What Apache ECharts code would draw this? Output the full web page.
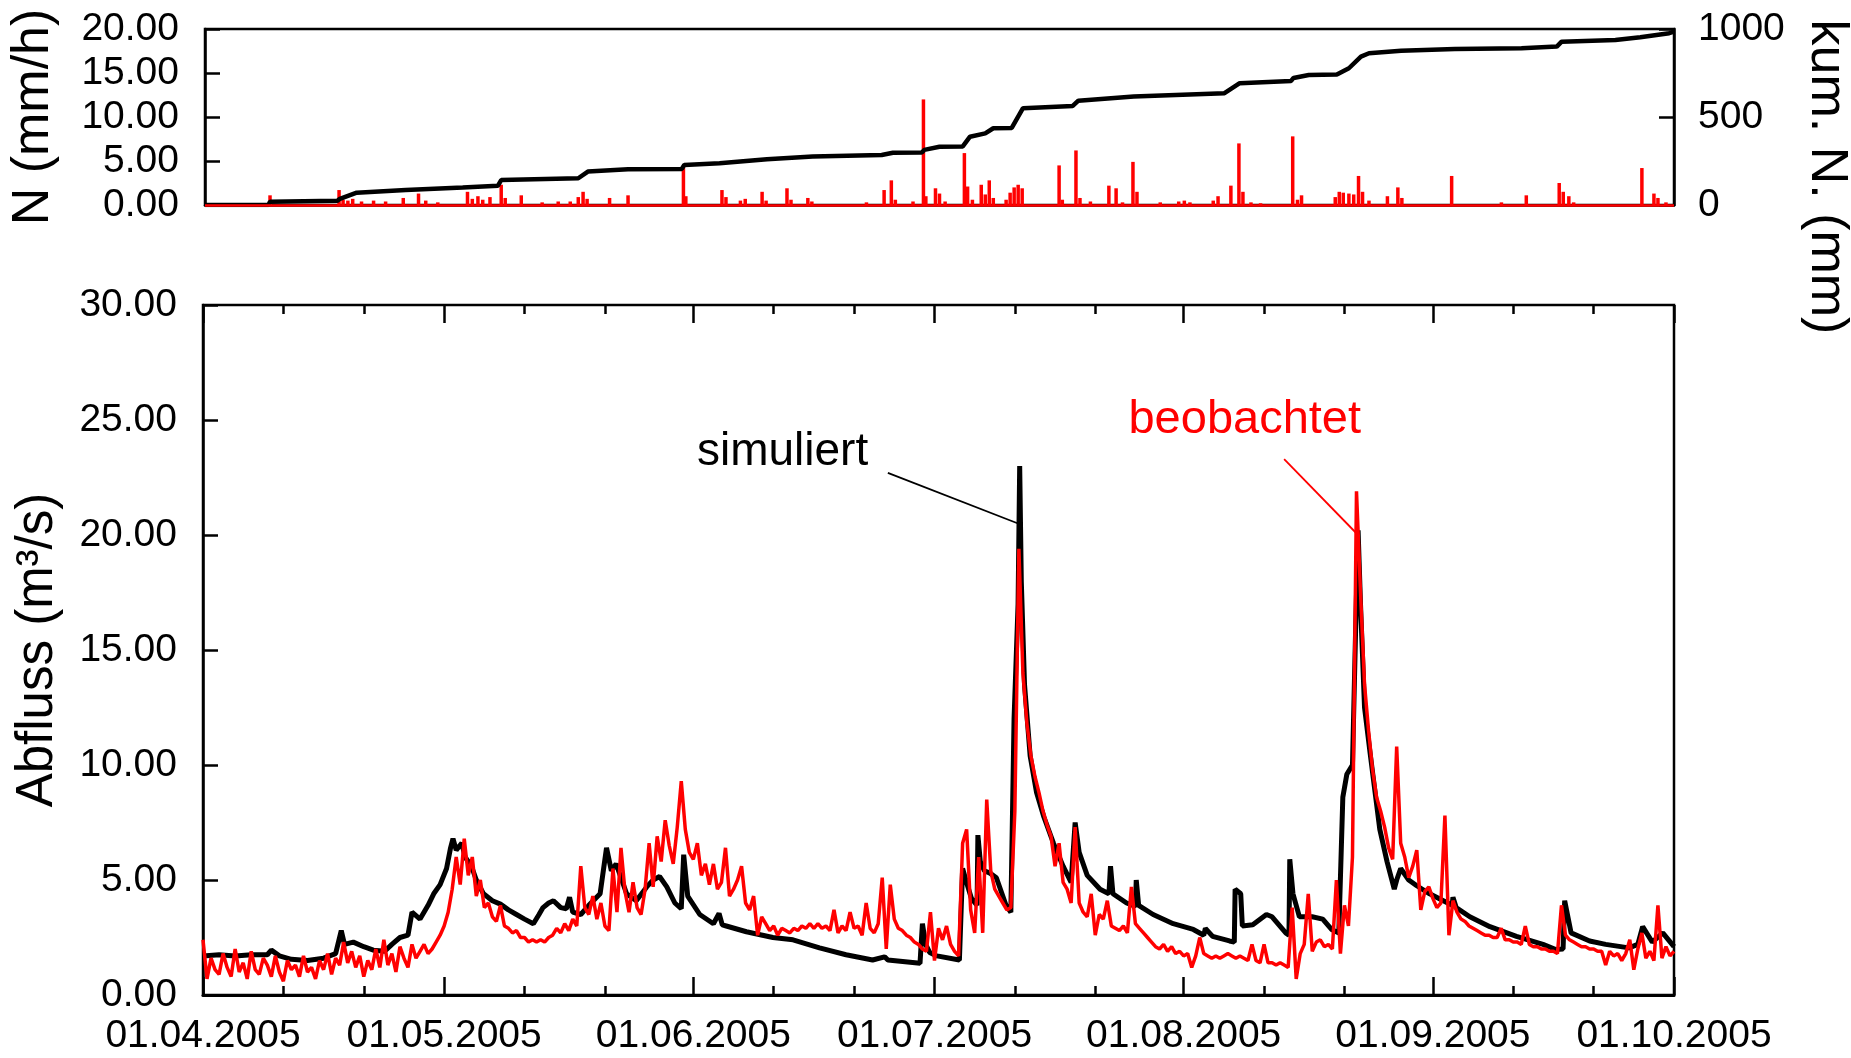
<!DOCTYPE html>
<html><head><meta charset="utf-8">
<script src="https://cdn.jsdelivr.net/npm/echarts@6/dist/echarts.min.js"></script>
<style>html,body{margin:0;padding:0;background:#fff}#c{width:1851px;height:1058px}</style>
</head><body><div id="c"></div>
<script>
// ---- x axis: days since 01.04.2005 ----
const monthLabelDays = [0, 30, 61, 91, 122, 153, 183];
const monthLabels = ['01.04.2005','01.05.2005','01.06.2005','01.07.2005','01.08.2005','01.09.2005','01.10.2005'];
const minorTickDays = [10, 20, 40, 50, 71, 81, 101, 111, 132, 142, 163, 173];

// ---- top panel: precipitation (mm/h) events [day, value] ----
const precipDays = [8.1,16.7,17.2,17.8,18.4,19.5,21,22.5,24.7,26.6,27.5,29,32.7,33.3,34,34.6,35.5,36.9,37.4,39.4,42,44,45.5,46.5,47.1,47.6,50.4,52.7,59.6,59.9,64.4,64.9,66.7,67.3,69.4,69.9,72.5,73,75.1,75.6,82.4,84.6,85.5,86,88.2,89.5,89.8,91,91.5,92.2,94.6,95,95.6,96.7,97.2,97.7,98.2,99.8,100.3,100.8,101.3,101.8,106.4,106.8,108.5,109,110.3,112.6,113.5,114.3,115.6,116.1,119,121.3,122,122.7,125.6,126.2,127.8,128.8,129.3,130.3,131.5,135.5,136.1,136.6,140.8,141.3,141.8,142.5,143.1,143.7,144.2,145,147.3,148.6,149.1,155.3,161.5,164.6,168.7,169.2,169.9,170.5,179,180.5,181,182];
const precipValues = [1.1,1.7,0.6,0.5,0.7,0.4,0.5,0.4,0.8,1.3,0.5,0.3,1.5,0.7,1.0,0.6,0.9,2.3,0.8,1.1,0.3,0.4,0.4,0.9,1.5,0.7,0.8,1.1,4.4,1.0,1.7,0.9,0.5,0.7,1.5,0.5,1.9,0.6,0.8,0.4,0.3,1.7,2.8,0.6,0.4,12.0,1.0,1.9,1.3,0.4,5.9,2.1,0.6,2.3,1.2,2.8,0.8,0.6,1.4,2.0,2.3,1.9,4.5,0.6,6.2,0.8,0.4,2.2,1.9,0.3,4.9,1.5,0.3,0.4,0.5,0.3,0.5,1.0,2.2,7.0,1.5,0.3,0.2,7.8,0.6,1.1,0.9,1.5,1.4,1.3,1.2,3.3,1.5,0.5,1.0,2.0,0.8,3.3,0.3,1.1,2.5,1.5,1.0,0.3,4.2,1.3,0.8,0.3];

// ---- top panel: cumulative precipitation (mm) ----
const cumDays = [0,7.9,8.1,16.5,16.8,18.9,25,32.1,36.5,36.9,46.5,47.7,52.7,59.4,59.7,64.1,70,75.7,84.3,85.7,89.3,89.6,91.5,94.4,95.3,97.2,98.2,100.5,101.9,108.1,108.8,115.7,127,128.9,135.3,135.6,137.5,141,142.5,144,145,149,155.7,164,168.4,169,175.7,178.8,182.4,183];
const cumValues = [0,0,19,24,35,70,85,100,110,142,152,190,203,205,227,237,260,275,284,297,298,313,331,333,388,407,436,438,550,563,593,616,635,692,705,722,739,742,777,843,862,877,887,891,900,928,938,953,976,985];

// ---- bottom panel: simulated discharge (m3/s) ----
const simDays = [0,2,4,6,8,8.5,9.5,11,13,15,16.5,17.2,17.6,18.7,20,21.2,22.6,23.5,24.5,25.5,26,27,28,28.7,29.5,30.3,30.8,31.1,31.5,32.2,32.6,33.4,34,34.9,36,37,38,39,40,41.1,41.8,42.3,43,43.6,44.5,45.2,45.6,46,47,48,49.4,50.2,50.8,51.4,52.7,53.9,55.2,56,56.8,57.7,58.7,59.5,59.8,60.3,61.8,63.5,64.2,64.6,65.1,67.6,70.9,73.4,76.7,80,83.3,84.8,85.2,89.2,89.5,89.9,90.4,91.3,94.1,94.5,94.9,95.6,96.3,96.4,96.7,97.2,97.9,98.7,99.9,100.5,100.9,101.4,101.6,101.8,102.2,102.9,103.7,104.6,105.8,107,108,108.5,109,110,111.6,112.7,112.9,113.2,114.9,116,116.1,116.4,118.2,120.7,123.2,124.5,124.7,125.6,127.7,128.3,128.4,129.1,129.3,130.6,132.3,133,134.7,135.1,135.2,135.6,136.4,138,139.3,140.4,141.3,141.8,142.3,143,143.4,143.7,144,144.5,145.2,146.4,147.3,148.2,148.5,149,150,151,152.6,154,155.4,155.5,155.9,157.6,160.1,163.4,166.7,168.3,169.2,169.4,170.2,172.5,174.5,177.4,178.5,179.1,180.3,181.6,183];
const simValues = [1.7,1.75,1.7,1.75,1.75,1.95,1.7,1.55,1.5,1.6,1.8,2.8,2.2,2.3,2.1,1.95,1.9,2.2,2.5,2.6,3.6,3.3,3.9,4.4,4.8,5.5,6.4,6.8,6.3,6.6,6.0,5.6,5.0,4.4,4.1,3.95,3.7,3.5,3.3,3.1,3.5,3.8,4.0,4.1,3.8,3.75,4.25,3.6,3.5,3.9,4.4,6.4,5.4,5.7,4.4,4.1,4.7,5.0,5.15,4.7,4.0,3.75,6.1,4.3,3.5,3.1,3.55,3.05,3.0,2.75,2.5,2.4,2.05,1.75,1.52,1.66,1.52,1.38,3.1,2.2,1.85,1.7,1.52,5.5,5.0,4.2,3.9,6.95,5.8,5.4,5.3,5.1,3.9,3.6,12,17,23.0,18,13.5,10.4,8.8,7.75,6.6,5.6,4.9,7.5,6.2,5.2,4.6,4.4,5.6,4.4,4.0,3.85,5.0,3.9,3.5,3.1,2.85,2.6,2.9,2.55,2.35,2.3,4.6,4.4,3.0,3.05,3.5,3.4,2.7,2.6,5.9,4.4,3.4,3.4,3.3,2.85,2.7,8.6,9.6,10,16,20.2,17,12.5,10.5,7.2,5.8,4.6,5.0,5.5,5.0,4.75,4.4,4.15,3.9,4.25,3.8,3.4,2.97,2.55,2.2,1.98,2.0,4.1,2.7,2.35,2.2,2.05,2.2,2.97,2.3,2.7,2.1];

// ---- bottom panel: observed discharge (m3/s), every 0.5 day from day 0 ----
const obsStep = 0.5;
const obsValues = [
2.4,0.7,1.6,1.1,0.9,1.8,1.2,0.8,2.0,1.0, 1.4,0.7,1.9,1.1,0.9,1.6,1.3,0.8,1.7,1.0,
0.6,1.5,1.1,1.3,0.8,1.7,1.0,1.2,0.7,1.5, 1.1,1.8,0.9,1.6,1.3,2.3,1.4,1.9,1.2,1.7,
0.8,1.5,1.1,2.0,1.2,2.4,1.3,1.8,1.0,2.1, 1.6,1.2,2.2,1.6,1.9,2.2,1.8,2.0,2.3,2.6,
3.0,3.6,4.6,6.0,4.8,6.8,5.2,6.0,4.3,5.0, 3.8,4.0,3.4,3.2,3.9,3.0,2.9,2.7,2.8,2.5,
2.5,2.3,2.4,2.3,2.4,2.3,2.5,2.6,2.9,2.7, 3.1,2.8,3.3,3.0,5.6,3.8,3.5,4.3,3.3,4.0,
3.0,2.8,5.5,3.6,6.4,4.5,3.6,4.9,3.8,3.5, 4.6,6.6,4.7,6.9,5.8,7.6,6.5,5.7,7.3,9.3,
7.2,6.2,5.9,6.6,5.2,5.7,4.8,5.7,4.6,4.9, 6.4,4.3,4.6,5.0,5.6,4.0,3.7,4.3,2.6,3.4,
3.1,2.8,3.0,2.6,2.9,2.8,2.7,2.9,2.8,3.0, 2.9,3.1,2.9,3.1,2.9,3.0,2.8,3.7,2.7,3.0,
2.8,3.6,2.9,3.0,2.6,4.0,2.9,2.7,3.1,5.1, 2.0,4.8,3.3,2.9,2.8,2.6,2.5,2.3,2.2,2.0,
1.9,3.6,1.5,2.9,2.4,3.0,2.2,1.9,1.7,6.6, 7.2,3.7,2.7,6.0,2.7,8.5,5.4,4.6,4.3,4.0,
3.7,3.8,8.0,19.4,14.0,11.8,10.4,9.5,8.8,8.0, 7.4,6.9,5.6,6.6,4.9,4.6,4.0,7.3,4.0,3.6,
3.4,4.4,2.6,3.5,3.3,4.1,3.0,2.9,2.8,3.0, 2.7,4.7,3.1,2.9,2.7,2.5,2.3,2.1,2.0,2.2,
1.9,2.1,1.8,1.9,1.7,1.8,1.2,1.7,2.5,1.8, 1.7,1.6,1.7,1.6,1.7,1.8,1.7,1.6,1.7,1.6,
1.5,2.2,1.5,1.4,2.2,1.4,1.4,1.3,1.4,1.3, 1.2,3.8,0.7,1.8,2.2,4.4,1.9,2.3,2.4,2.1,
2.2,2.0,5.0,1.8,3.9,3.0,6.0,21.9,17.5,13.5, 11.5,9.8,8.6,8.0,7.3,6.4,5.9,10.8,6.6,6.0,
5.1,5.6,6.3,3.7,4.5,4.7,4.2,3.8,4.0,7.8, 2.6,4.1,3.6,3.3,3.2,3.0,2.9,2.8,2.7,2.6,
2.6,2.5,2.5,2.9,2.4,2.4,2.3,2.3,2.2,3.0, 2.2,2.1,2.1,2.0,2.0,1.9,1.9,1.8,3.9,2.6,
2.4,2.3,2.2,2.1,2.1,2.0,2.0,1.9,1.9,1.3, 1.9,1.7,1.8,1.5,1.8,2.4,1.1,2.0,2.7,1.6,
1.9,1.5,3.9,1.6,2.1,1.7,1.9
];

// ---- annotation anchors (data coordinates) ----
const simLabel = { text: 'simuliert', at: [72.1, 23.6], lineFrom: [85.2, 22.7], lineTo: [101.4, 20.5] };
const obsLabel = { text: 'beobachtet', at: [129.6, 25.0], lineFrom: [134.5, 23.3], lineTo: [143.7, 20.0] };

const FONT = 'Liberation Sans, Arial, Helvetica, sans-serif';
const zip = (a, b) => a.map((x, i) => [x, b[i]]);
const obsData = obsValues.map((v, i) => [i * obsStep, v]);

const chart = echarts.init(document.getElementById('c'), null, { renderer: 'canvas' });

const baseX = (grid) => ({
  type: 'value', gridIndex: grid, min: 0, max: 183,
  splitLine: { show: false }, axisLabel: { show: false }, axisTick: { show: false },
  axisLine: { show: false }
});

chart.setOption({
  animation: false,
  backgroundColor: '#fff',
  textStyle: { fontFamily: FONT },
  grid: [
    { left: 201, top: 29, width: 1473, height: 176, show: true, borderColor: '#000', borderWidth: 2.5, backgroundColor: 'transparent' },
    { left: 203, top: 305, width: 1471, height: 690, show: true, borderColor: '#000', borderWidth: 2.5, backgroundColor: 'transparent' }
  ],
  xAxis: [
    Object.assign(baseX(0), { axisLine: { show: true, lineStyle: { color: '#000', width: 2.5 } } }),
    Object.assign(baseX(1), {
      position: 'bottom',
      axisLine: { show: true, onZero: false, lineStyle: { color: '#000', width: 3 } },
      axisTick: { show: true, inside: true, length: 18, customValues: monthLabelDays, lineStyle: { color: '#000', width: 2.5 } },
      axisLabel: { show: true, customValues: monthLabelDays, margin: 22, fontSize: 39, color: '#000', fontFamily: FONT,
        formatter: (v) => { const i = monthLabelDays.indexOf(Math.round(v)); return i >= 0 ? monthLabels[i] : ''; } }
    }),
    Object.assign(baseX(1), {
      position: 'bottom',
      axisTick: { show: true, inside: true, length: 9, customValues: minorTickDays, lineStyle: { color: '#000', width: 2.5 } }
    }),
    Object.assign(baseX(1), {
      position: 'top',
      axisTick: { show: true, inside: true, length: 18, customValues: monthLabelDays, lineStyle: { color: '#000', width: 2.5 } }
    }),
    Object.assign(baseX(1), {
      position: 'top',
      axisTick: { show: true, inside: true, length: 9, customValues: minorTickDays, lineStyle: { color: '#000', width: 2.5 } }
    })
  ],
  yAxis: [
    {
      type: 'value', gridIndex: 0, min: 0, max: 20, interval: 5, position: 'left',
      name: 'N (mm/h)', nameLocation: 'middle', nameRotate: 90, nameGap: 145,
      nameTextStyle: { fontSize: 52, color: '#000', fontFamily: FONT },
      splitLine: { show: false },
      axisLine: { show: true, lineStyle: { color: '#000', width: 2.5 } },
      axisTick: { show: true, inside: true, length: 15, lineStyle: { color: '#000', width: 2.5 } },
      axisLabel: { fontSize: 39, color: '#000', margin: 26, fontFamily: FONT, formatter: (v) => v.toFixed(2) }
    },
    {
      type: 'value', gridIndex: 0, min: 0, max: 1000, interval: 500, position: 'right',
      splitLine: { show: false },
      axisLine: { show: true, lineStyle: { color: '#000', width: 2.5 } },
      axisTick: { show: true, inside: true, length: 15, lineStyle: { color: '#000', width: 2.5 } },
      axisLabel: { fontSize: 39, color: '#000', margin: 24, fontFamily: FONT, formatter: (v) => String(v) }
    },
    {
      type: 'value', gridIndex: 1, min: 0, max: 30, interval: 5, position: 'left',
      name: 'Abfluss (m³/s)', nameLocation: 'middle', nameRotate: 90, nameGap: 140,
      nameTextStyle: { fontSize: 51, color: '#000', fontFamily: FONT },
      splitLine: { show: false },
      axisLine: { show: true, lineStyle: { color: '#000', width: 2.5 } },
      axisTick: { show: true, inside: true, length: 15, lineStyle: { color: '#000', width: 2.5 } },
      axisLabel: { fontSize: 39, color: '#000', margin: 26, fontFamily: FONT, formatter: (v) => v.toFixed(2) }
    }
  ],
  graphic: [
    { type: 'text', x: 1826, y: 177, rotation: -Math.PI / 2,
      style: { text: 'kum. N. (mm)', font: '52px ' + FONT, fill: '#000', align: 'center', verticalAlign: 'middle' } }
  ],
  series: [
    {
      name: 'N', type: 'bar', xAxisIndex: 0, yAxisIndex: 0, barWidth: 3.5, barGap: '-100%',
      itemStyle: { color: '#ff0000' }, data: zip(precipDays, precipValues),
      markLine: { silent: true, symbol: ['none', 'none'], label: { show: false },
        lineStyle: { color: '#ff0000', width: 2.5, type: 'solid' }, data: [{ yAxis: 0 }] }
    },
    {
      name: 'kum. N.', type: 'line', xAxisIndex: 0, yAxisIndex: 1, showSymbol: false,
      lineStyle: { color: '#000', width: 4.5 }, data: zip(cumDays, cumValues)
    },
    {
      name: 'simuliert', type: 'line', xAxisIndex: 1, yAxisIndex: 2, showSymbol: false,
      lineStyle: { color: '#000', width: 5 }, itemStyle: { color: '#000' }, data: zip(simDays, simValues),
      markLine: { silent: true, symbol: ['none', 'none'], label: { show: false },
        lineStyle: { color: '#000', width: 1.8, type: 'solid' },
        data: [[{ coord: simLabel.lineFrom }, { coord: simLabel.lineTo }]] },
      markPoint: { silent: true, symbol: 'rect', symbolSize: 1, itemStyle: { color: 'rgba(0,0,0,0)' },
        label: { show: true, position: 'inside', formatter: simLabel.text, fontSize: 46, color: '#000', fontFamily: FONT },
        data: [{ coord: simLabel.at }] }
    },
    {
      name: 'beobachtet', type: 'line', xAxisIndex: 1, yAxisIndex: 2, showSymbol: false,
      lineStyle: { color: '#ff0000', width: 3.5 }, itemStyle: { color: '#ff0000' }, data: obsData,
      markLine: { silent: true, symbol: ['none', 'none'], label: { show: false },
        lineStyle: { color: '#ff0000', width: 1.8, type: 'solid' },
        data: [[{ coord: obsLabel.lineFrom }, { coord: obsLabel.lineTo }]] },
      markPoint: { silent: true, symbol: 'rect', symbolSize: 1, itemStyle: { color: 'rgba(0,0,0,0)' },
        label: { show: true, position: 'inside', formatter: obsLabel.text, fontSize: 47, color: '#ff0000', fontFamily: FONT },
        data: [{ coord: obsLabel.at }] }
    }
  ]
});
</script>
</body></html>
